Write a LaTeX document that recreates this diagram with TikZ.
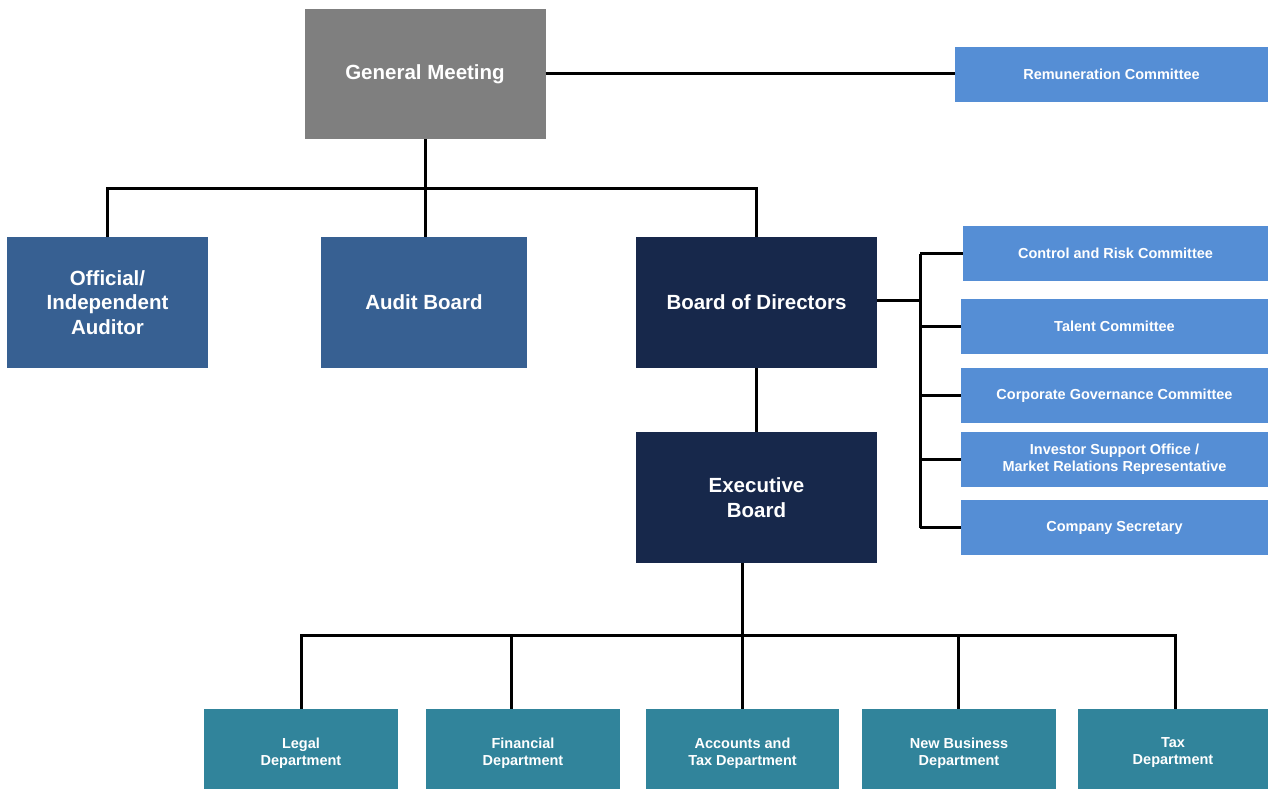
\documentclass[tikz,border=0pt]{standalone}
\usepackage{fontspec}
\setmainfont{Liberation Sans}
\definecolor{gmgray}{HTML}{7F7F7F}
\definecolor{midblue}{HTML}{376092}
\definecolor{navy}{HTML}{17284B}
\definecolor{lightblue}{HTML}{558ED5}
\definecolor{teal}{HTML}{31849B}
\begin{document}
\begin{tikzpicture}[x=1pt,y=-1pt,
  box/.style={inner sep=0pt, outer sep=0pt, draw=none, text=white, align=center, font=\bfseries},
  bigbox/.style={box, minimum width=241, minimum height=130, font=\bfseries\fontsize{20.5}{24.5}\selectfont},
  combox/.style={box, fill=lightblue, minimum height=55, font=\bfseries\fontsize{14.5}{17}\selectfont},
  depbox/.style={box, fill=teal, minimum height=88, font=\bfseries\fontsize{14.5}{17}\selectfont},
  conn/.style={line width=3pt, black}]
\useasboundingbox (0,0) rectangle (1268,789);
% top
\node[bigbox, fill=gmgray] (gm) at (425,74) {General Meeting};
\node[combox, minimum width=313] (rem) at (1111.5,74.5) {Remuneration Committee};
% second row
\node[bigbox, fill=midblue, minimum width=201, minimum height=131] (oia) at (107.5,302.5) {Official/\\Independent\\Auditor};
\node[bigbox, fill=midblue, minimum width=206, minimum height=131] (ab) at (424,302.5) {Audit Board};
\node[bigbox, fill=navy, minimum width=241, minimum height=131] (bod) at (756.5,302.5) {Board of Directors};
\node[bigbox, fill=navy, minimum width=241, minimum height=131] (eb) at (756.5,497.5) {Executive\\Board};
% committees
\node[combox, minimum width=305] (cr) at (1115.5,253.5) {Control and Risk Committee};
\node[combox, minimum width=307] (tc) at (1114.5,326.5) {Talent Committee};
\node[combox, minimum width=307] (cg) at (1114.5,395.5) {Corporate Governance Committee};
\node[combox, minimum width=307] (is) at (1114.5,459.5) {Investor Support Office /\\Market Relations Representative};
\node[combox, minimum width=307] (cs) at (1114.5,527.5) {Company Secretary};
% departments (boxes run to the lower edge of the picture)
\node[depbox, minimum width=194] (leg) at (301,753) {Legal\\Department};
\node[depbox, minimum width=194] (fin) at (523,753) {Financial\\Department};
\node[depbox, minimum width=193] (acc) at (742.5,753) {Accounts and\\Tax Department};
\node[depbox, minimum width=194] (nb) at (959,753) {New Business\\Department};
\node[depbox, minimum width=190] (tax) at (1173,753) {Tax\\Department};
% connectors
\coordinate (j1) at (425,188);
\coordinate (br) at (920,300);
\coordinate (h) at (743,635);
\coordinate (finx) at (511,0);
\coordinate (taxx) at (1175,0);
\coordinate (nbx) at (958,0);
\draw[conn] (gm.east) -- (gm.east -| rem.west);
\draw[conn] (gm.south) -- (gm.south |- ab.north);
\draw[conn] (oia.north) -- (oia.north |- j1) -- (bod.north |- j1) -- (bod.north);
\draw[conn] (bod.south) -- (eb.north);
\draw[conn] (bod.east |- br) -- (br);
\draw[conn] (br |- cr.west) -- (br |- cs.west);
\foreach \c in {cr,tc,cg,is,cs} \draw[conn] (br |- \c.west) -- (\c.west);
\draw[conn] (eb.south -| acc.north) -- (acc.north);
\draw[conn] (leg.north) -- (leg.north |- h) -- (taxx |- h) -- (taxx |- tax.north);
\draw[conn] (finx |- h) -- (finx |- fin.north);
\draw[conn] (nbx |- h) -- (nbx |- nb.north);
\end{tikzpicture}
\end{document}
